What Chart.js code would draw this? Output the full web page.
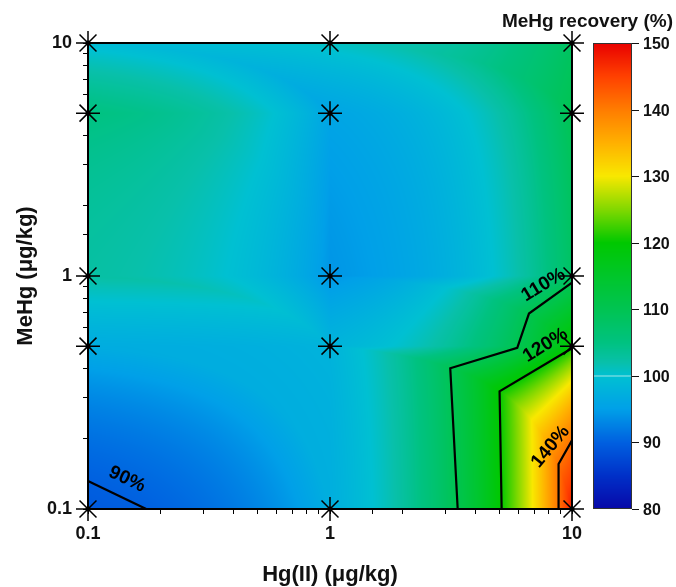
<!DOCTYPE html>
<html>
<head>
<meta charset="utf-8">
<script src="https://cdn.jsdelivr.net/npm/chart.js@4/dist/chart.umd.min.js"></script>
<style>
  body { margin: 0; background: #fff; }
</style>
</head>
<body>
<canvas id="myChart" width="676" height="587"></canvas>
<script>
// grid of spiked concentrations
const hgII = [0.1, 1, 10];
const mehg = [0.1, 0.5, 1, 5, 10];

// MeHg recovery (%) at each node, one row per MeHg level, columns follow hgII
const recoveryAt0_1 = [89.4, 97.2, 147.5];
const recoveryAt0_5 = [96.9, 98.0, 120.0];
const recoveryAt1 = [102.5, 94.2, 108.2];
const recoveryAt5 = [105.0, 95.8, 110.0];
const recoveryAt10 = [99.2, 100.8, 108.5];
const recovery = [recoveryAt0_1, recoveryAt0_5, recoveryAt1, recoveryAt5, recoveryAt10];

// contour lines ([Hg(II), MeHg])
const contour90 = [[0.1, 0.132], [0.174, 0.1]];
const contour110 = [[3.37, 0.1], [3.14, 0.402], [5.94, 0.492], [6.64, 0.69], [10, 0.936]];
const contour120 = [[5.12, 0.1], [5.02, 0.32], [10, 0.49]];
const contour140 = [[8.8, 0.1], [8.8, 0.156], [10, 0.197]];

const contourLabels = ["90%", "110%", "120%", "140%"];
const contourLabelPos = [[0.145, 0.134], [7.62, 0.915], [7.76, 0.505], [8.15, 0.185]];
const contourLabelAngle = [25, -31, -32, -50];

const xTickLabels = ["0.1", "1", "10"];
const yTickLabels = ["0.1", "1", "10"];
const cbTicks = [80, 90, 100, 110, 120, 130, 140, 150];

// colour map of the recovery bar
const cmapStops = [80, 85, 90, 95, 100, 102, 105, 110, 115, 120, 125, 130, 135, 140, 145, 150];
const cmapRGB = [
  [8, 8, 168], [0, 48, 200], [0, 96, 224], [0, 160, 232], [0, 192, 210],
  [8, 192, 170], [0, 194, 128], [0, 196, 82], [0, 198, 42], [0, 200, 0],
  [130, 216, 0], [248, 232, 0], [255, 176, 0], [255, 124, 0], [255, 64, 0], [232, 0, 0],
];

const FONT = "'Liberation Sans', Arial, sans-serif";

function colourOf(v) {
  if (v <= cmapStops[0]) return cmapRGB[0];
  const n = cmapStops.length;
  if (v >= cmapStops[n - 1]) return cmapRGB[n - 1];
  let k = 0;
  while (v > cmapStops[k + 1]) k++;
  const t = (v - cmapStops[k]) / (cmapStops[k + 1] - cmapStops[k]);
  const a = cmapRGB[k], b = cmapRGB[k + 1];
  return [a[0] + (b[0] - a[0]) * t, a[1] + (b[1] - a[1]) * t, a[2] + (b[2] - a[2]) * t];
}

function findCell(arr, v) {
  let i = 0;
  while (i < arr.length - 2 && v > arr[i + 1]) i++;
  return i;
}

// linear interpolation on triangles (diagonal from upper-left to lower-right of each cell)
function surface(xv, yv) {
  const i = findCell(hgII, xv), j = findCell(mehg, yv);
  let u = (xv - hgII[i]) / (hgII[i + 1] - hgII[i]);
  let v = (yv - mehg[j]) / (mehg[j + 1] - mehg[j]);
  u = Math.min(1, Math.max(0, u));
  v = Math.min(1, Math.max(0, v));
  const z00 = recovery[j][i], z10 = recovery[j][i + 1];
  const z01 = recovery[j + 1][i], z11 = recovery[j + 1][i + 1];
  if (u + v <= 1) return z00 + u * (z10 - z00) + v * (z01 - z00);
  return z11 + (1 - u) * (z01 - z11) + (1 - v) * (z10 - z11);
}

const heatmap = {
  id: "heatmap",
  beforeDatasetsDraw(chart) {
    const { ctx, chartArea: a, scales } = chart;
    const left = Math.round(a.left), top = Math.round(a.top);
    const w = Math.round(a.right) - left, h = Math.round(a.bottom) - top;
    const img = ctx.createImageData(w, h);
    const xs = [];
    for (let i = 0; i < w; i++) xs.push(scales.x.getValueForPixel(left + i + 0.5));
    for (let j = 0; j < h; j++) {
      const yv = scales.y.getValueForPixel(top + j + 0.5);
      for (let i = 0; i < w; i++) {
        const c = colourOf(surface(xs[i], yv));
        const p = (j * w + i) * 4;
        img.data[p] = c[0];
        img.data[p + 1] = c[1];
        img.data[p + 2] = c[2];
        img.data[p + 3] = 255;
      }
    }
    ctx.putImageData(img, left, top);

    // plot frame
    ctx.save();
    ctx.strokeStyle = "#000";
    ctx.lineWidth = 2;
    ctx.strokeRect(a.left, a.top, a.right - a.left, a.bottom - a.top);
    ctx.restore();
  },
  afterDatasetsDraw(chart) {
    const { ctx, scales } = chart;
    ctx.save();
    ctx.fillStyle = "#000";
    ctx.font = "bold 19px " + FONT;
    ctx.textAlign = "center";
    ctx.textBaseline = "middle";
    contourLabels.forEach((txt, k) => {
      const px = scales.x.getPixelForValue(contourLabelPos[k][0]);
      const py = scales.y.getPixelForValue(contourLabelPos[k][1]);
      ctx.save();
      ctx.translate(px, py);
      ctx.rotate((contourLabelAngle[k] * Math.PI) / 180);
      ctx.fillText(txt, 0, 0);
      ctx.restore();
    });
    ctx.restore();
  },
  afterDraw(chart) {
    const { ctx, chartArea: a } = chart;
    const cb = chart.scales.cb;
    const x0 = a.right + 21, x1 = a.right + 60;
    const yTop = cb.getPixelForValue(150), yBot = cb.getPixelForValue(80);
    ctx.save();
    for (let py = Math.floor(yTop); py < Math.ceil(yBot); py++) {
      const c = colourOf(cb.getValueForPixel(py + 0.5));
      ctx.fillStyle = "rgb(" + c.map(Math.round).join(",") + ")";
      ctx.fillRect(x0, py, x1 - x0, 1);
    }
    const y100 = Math.round(cb.getPixelForValue(100));
    ctx.fillStyle = "rgba(200,240,235,0.8)";
    ctx.fillRect(x0, y100 - 0.5, x1 - x0, 1);
    ctx.strokeStyle = "#333";
    ctx.lineWidth = 1;
    ctx.strokeRect(x0 + 0.5, yTop + 0.5, x1 - x0 - 1, yBot - yTop - 1);

    ctx.fillStyle = "#111";
    ctx.strokeStyle = "#111";
    ctx.font = "bold 16px " + FONT;
    ctx.textAlign = "left";
    ctx.textBaseline = "middle";
    cbTicks.forEach((t) => {
      const py = Math.round(cb.getPixelForValue(t)) + 0.5;
      ctx.beginPath();
      ctx.moveTo(x1, py);
      ctx.lineTo(x1 + 7, py);
      ctx.stroke();
      ctx.fillText(String(t), x1 + 11, py + 1);
    });

    ctx.font = "bold 19px " + FONT;
    ctx.textAlign = "right";
    ctx.fillText("MeHg recovery (%)", 673, 22);
    ctx.restore();
  },
};

function isDecade(v) {
  const l = Math.log10(v);
  return Math.abs(l - Math.round(l)) < 1e-6;
}

const nodes = [];
mehg.forEach((yv) => hgII.forEach((xv) => nodes.push({ x: xv, y: yv })));

function contourSet(points) {
  return {
    type: "line",
    data: points.map((p) => ({ x: p[0], y: p[1] })),
    borderColor: "#000",
    borderWidth: 2.2,
    pointRadius: 0,
    tension: 0,
    clip: 4,
  };
}

new Chart("myChart", {
  type: "scatter",
  data: {
    datasets: [
      contourSet(contour90),
      contourSet(contour110),
      contourSet(contour120),
      contourSet(contour140),
      {
        data: nodes,
        pointStyle: "star",
        pointRadius: 12,
        borderColor: "#000",
        borderWidth: 1.5,
        backgroundColor: "#000",
        clip: false,
      },
      {
        data: nodes,
        pointStyle: "circle",
        pointRadius: 2.5,
        borderWidth: 0,
        backgroundColor: "#000",
        clip: false,
      },
    ],
  },
  options: {
    responsive: false,
    animation: false,
    events: [],
    layout: { padding: { left: 0, top: 43, right: 104, bottom: 0 } },
    plugins: { legend: { display: false }, tooltip: { enabled: false } },
    scales: {
      x: {
        type: "logarithmic",
        min: 0.1,
        max: 10,
        border: { display: false },
        grid: { drawOnChartArea: false, tickLength: 5, color: "#000", lineWidth: 1 },
        ticks: {
          autoSkip: false,
          maxRotation: 0,
          padding: 9,
          color: "#111",
          font: { family: FONT, size: 18, weight: "bold" },
          callback: (v) => (isDecade(v) ? xTickLabels[Math.round(Math.log10(v)) + 1] : ""),
        },
        title: {
          display: true,
          text: "Hg(II) (μg/kg)",
          color: "#111",
          font: { family: FONT, size: 22, weight: "bold", lineHeight: 1 },
          padding: { top: 0, bottom: 1 },
        },
        afterFit: (s) => {
          s.height = 78;
          s.paddingLeft = 0;
          s.paddingRight = 0;
        },
      },
      y: {
        type: "logarithmic",
        min: 0.1,
        max: 10,
        border: { display: false },
        grid: { drawOnChartArea: false, tickLength: 5, color: "#000", lineWidth: 1 },
        ticks: {
          autoSkip: false,
          padding: 11,
          color: "#111",
          font: { family: FONT, size: 18, weight: "bold" },
          callback: (v) => (isDecade(v) ? yTickLabels[Math.round(Math.log10(v)) + 1] : ""),
        },
        title: {
          display: true,
          text: "MeHg (μg/kg)",
          color: "#111",
          font: { family: FONT, size: 22, weight: "bold", lineHeight: 1 },
          padding: { top: 15, bottom: 0 },
        },
        afterFit: (s) => {
          s.width = 88;
          s.paddingTop = 0;
          s.paddingBottom = 0;
        },
      },
      cb: {
        type: "linear",
        position: "right",
        display: false,
        min: 80,
        max: 150,
      },
    },
  },
  plugins: [heatmap],
});
</script>
</body>
</html>
